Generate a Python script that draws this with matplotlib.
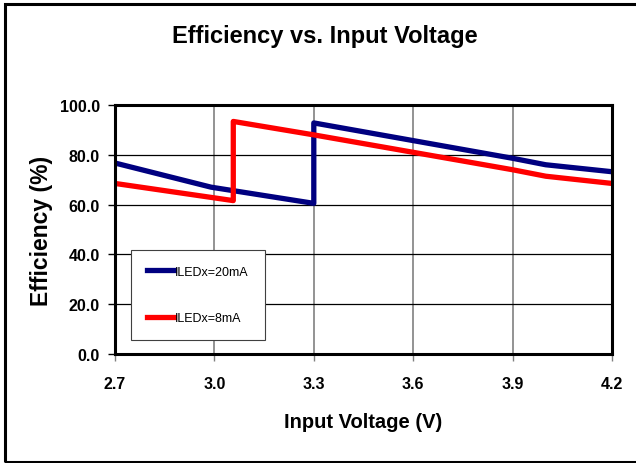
import numpy as np
import matplotlib
matplotlib.use("Agg")
import matplotlib.pyplot as plt
from matplotlib.patches import Rectangle

plt.rcParams['font.family'] = ['Liberation Sans', 'DejaVu Sans']

# data
blue_v = [2.7, 2.99, 3.3, 3.3, 3.6, 3.9, 4.0, 4.2]
blue_eff = [76.7, 67.0, 60.5, 92.8, 85.7, 78.6, 76.0, 73.2]
red_v = [2.7, 3.057, 3.057, 3.3, 3.6, 3.9, 4.0, 4.2]
red_eff = [68.5, 61.6, 93.4, 88.0, 81.0, 74.0, 71.4, 68.5]
labels = ["ILEDx=20mA", "ILEDx=8mA"]
x_ticks = [2.7, 3.0, 3.3, 3.6, 3.9, 4.2]
y_ticks = [0, 20, 40, 60, 80, 100]

fig = plt.figure(figsize=(6.36, 4.64), dpi=100)
ax = fig.add_axes([115/636, 1 - 355/464, 497/636, 249/464])

# outer chart frame
fig.patches.append(Rectangle((5/636, 1/464), 1.0, 458/464, transform=fig.transFigure,
                             fill=False, edgecolor='black', linewidth=2.2))

ax.plot(blue_v, blue_eff, color='#000080', linewidth=3.8, label=labels[0])
ax.plot(red_v, red_eff, color='#ff0000', linewidth=3.8, label=labels[1])

ax.set_xlim(2.7, 4.2)
ax.set_ylim(0, 100)
ax.set_xticks(x_ticks)
ax.set_yticks(y_ticks)
ax.set_xticklabels(["%.1f" % v for v in x_ticks], fontsize=11.5, fontweight='bold')
ax.set_yticklabels(["%.1f" % v for v in y_ticks], fontsize=11.5, fontweight='bold')
ax.tick_params(direction='out', length=5, width=1)
ax.tick_params(axis='x', pad=11, color='#808080')
ax.tick_params(axis='y', pad=6)

ax.yaxis.grid(True, color='black', linewidth=0.9)
ax.xaxis.grid(True, color='#808080', linewidth=1.2)
ax.set_axisbelow(True)
for s in ax.spines.values():
    s.set_linewidth(2.2)
    s.set_color('black')

fig.text(325/636, 1 - 36/464, "Efficiency vs. Input Voltage", fontsize=17,
         fontweight='bold', ha='center', va='center')
ax.set_xlabel("Input Voltage (V)", fontsize=14.5, fontweight='bold', labelpad=15)
ax.set_ylabel("Efficiency (%)", fontsize=16.5, fontweight='bold', labelpad=5)

leg = ax.legend(loc='upper left', bbox_to_anchor=(0.032, 0.418), borderaxespad=0,
                fancybox=False, framealpha=1, edgecolor='#404040', fontsize=9,
                handlelength=2.2, handletextpad=0.1, labelspacing=2.75, borderpad=1.25)
leg.get_frame().set_linewidth(0.8)

fig.savefig("out.png", dpi=100)
